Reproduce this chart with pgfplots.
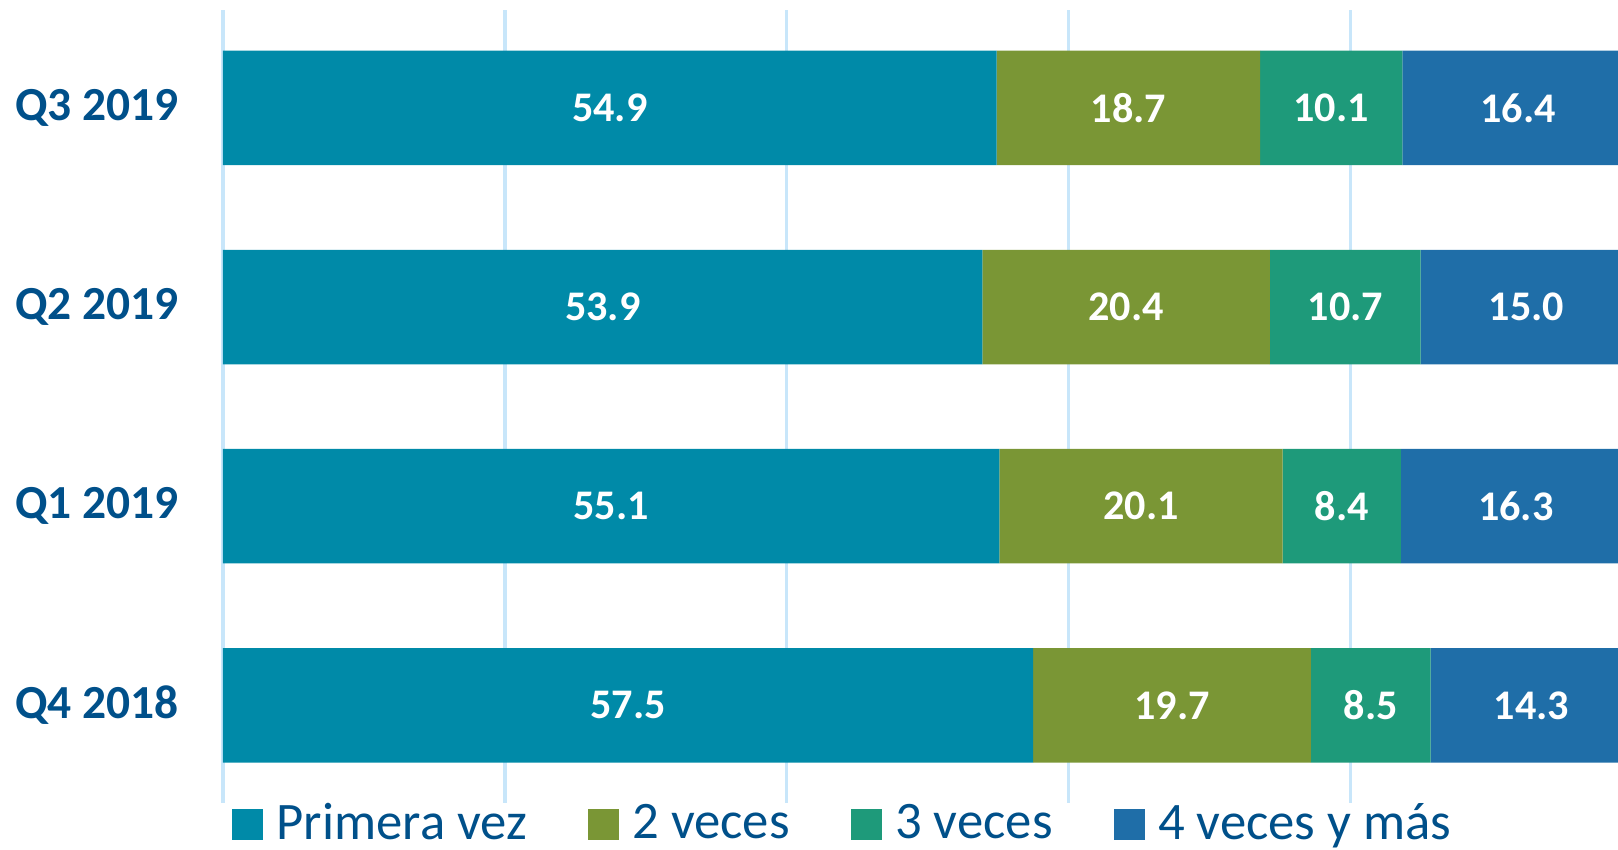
\documentclass[border=0pt]{standalone}
\usepackage{pgfplots}
\usepackage{pgfplotstable}
\pgfplotsset{compat=1.18}
\usepackage{fontspec}
\setmainfont{Carlito}
\definecolor{cTeal}{RGB}{0,138,168}
\definecolor{cOlive}{RGB}{122,150,53}
\definecolor{cGreen}{RGB}{30,154,122}
\definecolor{cBlue}{RGB}{31,110,168}
\definecolor{cText}{RGB}{0,80,138}
\definecolor{cGrid}{RGB}{200,230,250}
\pgfplotstableread{
y v1 v2 v3 v4
0 57.5 19.7 8.5 14.3
1 55.1 20.1 8.4 16.3
2 53.9 20.4 10.7 15.0
3 54.9 18.7 10.1 16.4
}\data
\begin{document}
\begin{tikzpicture}
\useasboundingbox (0,0) rectangle (161.8mm,85mm);
\begin{axis}[
  at={(22.3mm,4.7mm)}, anchor=south west,
  scale only axis, width=139.5mm, height=79.27mm,
  xbar stacked, bar width=11.45mm,
  xmin=0, xmax=99, ymin=-0.49, ymax=3.49,
  axis line style={draw=none},
  major tick length=0pt,
  xtick={0,20,40,60,80,100}, xticklabels={},
  xmajorgrids, major grid style={draw=cGrid, line width=0.35mm},
  ytick={0,1,2,3},
  yticklabels={Q4 2018,Q1 2019,Q2 2019,Q3 2019},
  yticklabel style={anchor=east, inner sep=0pt, xshift=-4.35mm,
    font=\fontsize{13.5}{16}\selectfont\bfseries, text=cText},
  point meta=explicit symbolic,
  nodes near coords,
  every node near coord/.append style={anchor=center, text=white,
    font=\fontsize{12}{14}\selectfont\bfseries},
  clip=false,
  legend columns=4,
  legend style={at={(axis description cs:0.0065,-0.027)}, anchor=west,
    draw=none, fill=none, text=cText, inner sep=0pt, outer sep=0pt,
    font=\fontsize{15}{17}\selectfont,
    nodes={inner sep=0pt},
    /tikz/every odd column/.append style={column sep=1.35mm},
    /tikz/every even column/.append style={column sep=6.1mm}},
  legend image code/.code={\path[#1, draw=none] (0mm,-1.55mm) rectangle (3.1mm,1.55mm);},
]
\addplot[fill=cTeal, draw=none] table[x=v1, y=y, meta=v1] {\data};
\addplot[fill=cOlive, draw=none] table[x=v2, y=y, meta=v2] {\data};
\addplot[fill=cGreen, draw=none] table[x=v3, y=y, meta=v3] {\data};
\addplot[fill=cBlue, draw=none] table[x=v4, y=y, meta=v4] {\data};
\legend{Primera vez, 2 veces, 3 veces, 4 veces y más}
\end{axis}
\end{tikzpicture}
\end{document}
